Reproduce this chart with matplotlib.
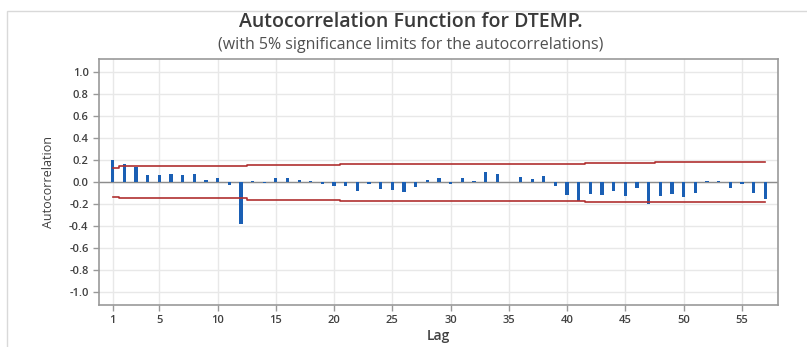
import matplotlib
matplotlib.use('Agg')
import matplotlib.pyplot as plt
from matplotlib.patches import Rectangle

plt.rcParams['font.family'] = ['Open Sans', 'DejaVu Sans']

# lags and autocorrelations
lags = list(range(1, 58))
acf = [0.203, 0.167, 0.136, 0.067, 0.067, 0.076, 0.067, 0.076, 0.021, 0.036,
       -0.027, -0.379, 0.012, -0.010, 0.036, 0.036, 0.021, 0.012, -0.020, -0.033,
       -0.033, -0.082, -0.020, -0.060, -0.067, -0.085, -0.040, 0.021, 0.036, -0.015,
       0.042, 0.015, 0.094, 0.076, 0.003, 0.045, 0.030, 0.058, -0.030, -0.120,
       -0.167, -0.103, -0.118, -0.082, -0.127, -0.055, -0.200, -0.127, -0.110, -0.133,
       -0.100, 0.012, 0.009, -0.055, -0.015, -0.100, -0.148]

# 5% significance limit per lag
limit = [0.133,
         0.144, 0.144, 0.144, 0.144, 0.144, 0.144, 0.144, 0.144, 0.144, 0.144, 0.144,
         0.159, 0.159, 0.159, 0.159, 0.159, 0.159, 0.159, 0.159,
         0.167, 0.167, 0.167, 0.167, 0.167, 0.167, 0.167, 0.167, 0.167, 0.167,
         0.167, 0.167, 0.167, 0.167, 0.167, 0.167, 0.167, 0.167, 0.167, 0.167, 0.167,
         0.176, 0.176, 0.176, 0.176, 0.176, 0.176,
         0.183, 0.183, 0.183, 0.183, 0.183, 0.183, 0.183, 0.183, 0.183, 0.183]

xticks = [1, 5, 10, 15, 20, 25, 30, 35, 40, 45, 50, 55]
yticks = [-1.0, -0.8, -0.6, -0.4, -0.2, 0.0, 0.2, 0.4, 0.6, 0.8, 1.0]

fig = plt.figure(figsize=(8.07, 3.47), dpi=100)
fig.patches.append(Rectangle((7 / 807, -0.1), 1.2, 1 - 11 / 347 + 0.1,
                             transform=fig.transFigure, fill=False,
                             edgecolor='#d9d9d9', lw=1))

ax = fig.add_axes([99 / 807, 42 / 347, 679 / 807, 246 / 347])

ax.set_xlim(-0.18, 58.1)
ax.set_ylim(-1.115, 1.12)
ax.set_xticks(xticks)
ax.set_yticks(yticks)
ax.set_yticklabels(['%.1f' % v for v in yticks])
ax.grid(True, color='#e8e8e8', lw=1)
ax.set_axisbelow(True)

ax.axhline(0, color='#8c8c8c', lw=1, zorder=2)
ax.bar(lags, acf, width=0.28, color='#1a5fb4', zorder=3)
ax.plot(lags, limit, drawstyle='steps-mid', color='#b03030', lw=1.2, zorder=4)
ax.plot(lags, [-v for v in limit], drawstyle='steps-mid', color='#b03030', lw=1.2, zorder=4)

for s in ax.spines.values():
    s.set_color('#999999')
    s.set_linewidth(1.2)
ax.tick_params(colors='#999999', labelcolor='#404040', length=4, width=1,
               labelsize=8)
for lbl in ax.get_xticklabels() + ax.get_yticklabels():
    lbl.set_fontweight('semibold')

ax.set_ylabel('Autocorrelation', fontsize=9, color='#404040', labelpad=10)
ax.set_xlabel('Lag', fontsize=10, color='#404040', fontweight='semibold', labelpad=2)

fig.text(411 / 807, 1 - 22 / 347, 'Autocorrelation Function for DTEMP.',
         ha='center', va='center', fontsize=14, fontweight='semibold', color='#3a3a3a')
fig.text(411 / 807, 1 - 45 / 347, '(with 5% significance limits for the autocorrelations)',
         ha='center', va='center', fontsize=11.5, color='#505050')

plt.savefig('out.png', dpi=100)
